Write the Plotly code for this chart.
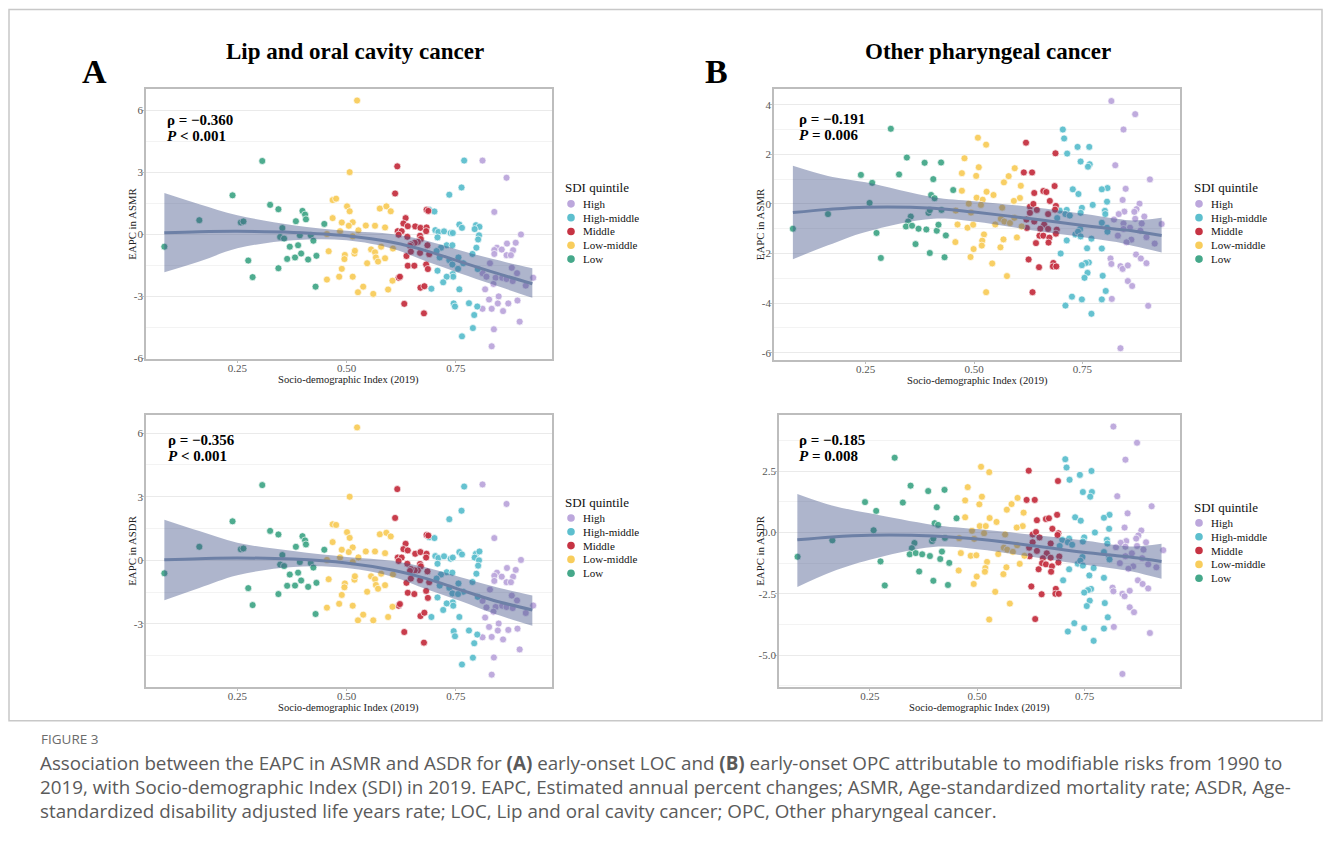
import plotly.graph_objects as go

PAGE_W, PAGE_H = 1331, 850
OFF = 8  # default body margin of the html page
W, H = PAGE_W - OFF, PAGE_H - OFF
SERIF = "Liberation Serif, Times New Roman, serif"
SANS = "Open Sans, Noto Sans, sans-serif"

groups = ["High", "High-middle", "Middle", "Low-middle", "Low"]
colors = {"High": "#BCA7DC", "High-middle": "#5DBFCE", "Middle": "#C63343",
          "Low-middle": "#F8CD5C", "Low": "#45A88A"}

# ---------------- Panel A: Lip and oral cavity cancer ----------------
A_sdi_low = [0.083, 0.163, 0.239, 0.258, 0.264, 0.275, 0.285, 0.307, 0.325, 0.344,
             0.353, 0.348, 0.357, 0.344, 0.370, 0.364, 0.384, 0.382, 0.389, 0.393,
             0.396, 0.399, 0.405, 0.407, 0.412, 0.418, 0.424, 0.431, 0.429, 0.449]
A_asmr_low = [-0.60, 0.68, 1.88, 0.57, 0.62, -1.27, -2.07, 3.54, 1.42, 1.21,
              0.30, -0.13, -0.21, -1.64, -0.60, -1.19, 0.63, -1.12, -0.53, -0.05,
              -0.93, 1.13, 0.95, 0.72, -1.22, -0.05, -0.31, -1.04, -2.53, 0.50]
A_asdr_low = [-0.61, 0.64, 1.84, 0.52, 0.56, -1.31, -2.11, 3.55, 1.39, 1.22,
              0.25, -0.20, -0.27, -1.59, -0.67, -1.20, 0.64, -1.19, -0.58, -0.08,
              -0.95, 1.14, 0.94, 0.75, -1.25, -0.13, -0.34, -1.06, -2.53, 0.50]

A_sdi_lowmid = [0.524, 0.507, 0.468, 0.476, 0.501, 0.507, 0.468, 0.489, 0.514, 0.505,
                0.527, 0.544, 0.565, 0.588, 0.576, 0.591, 0.601, 0.455, 0.485, 0.514,
                0.459, 0.496, 0.495, 0.518, 0.519, 0.556, 0.565, 0.579, 0.606, 0.567,
                0.588, 0.572, 0.547, 0.489, 0.483, 0.514, 0.455, 0.538, 0.526, 0.561,
                0.595, 0.605]
A_asmr_lowmid = [6.46, 3.00, 1.65, 1.72, 1.35, 1.11, 0.78, 0.57, 0.58, 0.41,
                 0.19, 0.42, 0.41, 0.33, 1.24, 1.35, 1.11, 0.01, 0.15, -0.10,
                 -0.82, -1.00, -1.20, -0.93, -0.80, -0.73, -0.87, -0.60, -0.69, -1.12,
                 -1.16, -1.32, -1.40, -1.67, -2.05, -2.05, -2.19, -2.53, -2.80, -2.88,
                 -2.67, -2.24]
A_asdr_lowmid = [6.27, 3.00, 1.70, 1.67, 1.33, 1.06, 0.86, 0.50, 0.61, 0.39,
                 0.14, 0.42, 0.42, 0.34, 1.23, 1.30, 1.13, 0.02, 0.14, -0.08,
                 -0.89, -1.09, -1.27, -0.91, -0.75, -0.75, -0.89, -0.63, -0.67, -1.16,
                 -1.17, -1.34, -1.48, -1.63, -2.05, -2.14, -2.23, -2.56, -2.83, -2.83,
                 -2.67, -2.19]

A_sdi_mid = [0.616, 0.611, 0.635, 0.630, 0.640, 0.657, 0.669, 0.683, 0.682, 0.683,
             0.687, 0.617, 0.626, 0.619, 0.639, 0.668, 0.670, 0.663, 0.656, 0.647,
             0.645, 0.685, 0.637, 0.647, 0.668, 0.689, 0.640, 0.655, 0.682, 0.686,
             0.619, 0.622, 0.669, 0.678, 0.632, 0.677]
A_asmr_mid = [3.28, 1.97, 0.78, 0.52, 0.39, 0.38, 0.31, 0.33, 0.15, 1.18,
              1.13, 0.15, 0.15, -0.02, -0.12, -0.07, -0.23, -0.37, -0.41, -0.49,
              -0.56, -0.53, -1.05, -0.84, -0.90, -0.96, -1.52, -1.52, -1.46, -1.68,
              -2.10, -2.05, -2.58, -2.51, -3.36, -3.82]
A_asdr_mid = [3.36, 2.00, 0.78, 0.53, 0.47, 0.31, 0.39, 0.31, 0.13, 1.20,
              1.17, 0.13, 0.13, -0.03, -0.16, -0.17, -0.28, -0.47, -0.47, -0.41,
              -0.50, -0.52, -1.06, -0.86, -0.94, -1.03, -1.53, -1.59, -1.44, -1.77,
              -2.14, -2.06, -2.63, -2.47, -3.38, -3.88]

A_sdi_highmid = [0.769, 0.763, 0.735, 0.689, 0.701, 0.758, 0.764, 0.796, 0.804, 0.793,
                 0.703, 0.710, 0.723, 0.738, 0.743, 0.803, 0.801, 0.708, 0.729, 0.742,
                 0.716, 0.706, 0.797, 0.713, 0.735, 0.756, 0.788, 0.742, 0.767, 0.755,
                 0.800, 0.708, 0.743, 0.744, 0.729, 0.721, 0.694, 0.758, 0.745, 0.748,
                 0.780, 0.799, 0.792, 0.789, 0.764]
A_asmr_highmid = [3.56, 2.26, 1.91, 1.18, 1.10, 0.47, 0.31, 0.44, 0.36, 0.25,
                  0.20, 0.11, 0.14, 0.06, 0.06, -0.05, -0.25, -0.15, -0.53, -0.53,
                  -0.65, -0.81, -0.65, -1.12, -1.25, -1.12, -0.95, -1.46, -1.40, -1.67,
                  -1.68, -1.76, -1.92, -2.05, -2.05, -2.32, -2.63, -2.66, -3.34, -3.49,
                  -3.33, -3.49, -3.90, -4.53, -4.93]
A_asdr_highmid = [3.48, 2.34, 1.94, 1.09, 1.05, 0.39, 0.28, 0.31, 0.42, 0.13,
                  0.20, 0.11, 0.19, 0.08, 0.13, 0.00, -0.25, -0.16, -0.56, -0.58,
                  -0.67, -0.86, -0.63, -1.19, -1.30, -1.09, -1.02, -1.56, -1.48, -1.59,
                  -1.72, -1.75, -1.98, -2.14, -2.03, -2.34, -2.67, -2.67, -3.34, -3.58,
                  -3.31, -3.50, -3.91, -4.59, -4.91]

A_sdi_high = [0.811, 0.866, 0.838, 0.899, 0.867, 0.887, 0.844, 0.855, 0.838, 0.881,
              0.838, 0.866, 0.876, 0.828, 0.878, 0.811, 0.890, 0.820, 0.841, 0.856,
              0.866, 0.880, 0.927, 0.910, 0.836, 0.817, 0.848, 0.826, 0.891, 0.846,
              0.870, 0.811, 0.832, 0.858, 0.896, 0.837, 0.832]
A_asmr_high = [3.56, 2.73, 1.08, -0.01, -0.45, -0.41, -0.65, -0.74, -0.76, -0.77,
               -0.95, -1.01, -1.01, -1.40, -1.62, -1.88, -1.88, -2.05, -2.10, -2.10,
               -2.16, -2.26, -2.10, -2.48, -2.40, -2.66, -3.00, -3.15, -3.20, -3.34,
               -3.34, -3.60, -3.60, -3.71, -4.22, -4.59, -5.41]
A_asdr_high = [3.58, 2.66, 1.05, 0.02, -0.36, -0.45, -0.58, -0.77, -0.73, -0.77,
               -0.97, -1.03, -1.03, -1.38, -1.66, -1.91, -1.89, -2.22, -2.20, -2.14,
               -2.20, -2.25, -2.13, -2.48, -2.42, -2.70, -2.98, -3.14, -3.22, -3.31,
               -3.28, -3.63, -3.61, -3.73, -4.20, -4.58, -5.39]

# loess fit
A_fit_x = [0.083, 0.163, 0.25, 0.378, 0.50, 0.607, 0.683, 0.759, 0.835, 0.925]
A_asmr_fit = [0.07, 0.12, 0.14, 0.09, -0.07, -0.40, -0.80, -1.32, -1.83, -2.39]
A_asmr_hi = [1.99, 1.45, 0.92, 0.44, 0.17, 0.00, -0.31, -0.77, -1.20, -1.64]
A_asmr_lo = [-1.84, -1.32, -0.68, -0.29, -0.29, -0.71, -1.32, -1.88, -2.43, -3.07]
A_asdr_fit = [0.03, 0.08, 0.11, 0.06, -0.125, -0.47, -0.86, -1.38, -1.88, -2.34]
A_asdr_hi = [1.92, 1.38, 0.83, 0.44, 0.16, -0.03, -0.34, -0.78, -1.22, -1.66]
A_asdr_lo = [-1.88, -1.30, -0.70, -0.31, -0.36, -0.78, -1.36, -1.91, -2.50, -3.09]

# ---------------- Panel B: Other pharyngeal cancer ----------------
B_sdi_low = [0.082, 0.163, 0.239, 0.265, 0.259, 0.308, 0.275, 0.285, 0.327, 0.345,
             0.354, 0.348, 0.343, 0.357, 0.365, 0.372, 0.386, 0.390, 0.395, 0.398,
             0.401, 0.406, 0.409, 0.398, 0.414, 0.418, 0.424, 0.425, 0.435, 0.432,
             0.452]
B_asmr_low = [-1.00, -0.41, 1.17, 0.85, 0.04, 3.03, -1.17, -2.18, 1.19, 1.87,
              -0.51, -0.71, -0.91, -0.88, -1.62, -1.00, 1.66, -1.03, -0.36, -0.25,
              0.36, 1.00, 0.23, -1.98, -1.08, -0.84, 1.67, -0.24, -1.27, -2.15,
              0.56]
B_asdr_low = [-0.99, -0.32, 1.24, 0.88, 0.09, 3.05, -1.18, -2.16, 1.22, 1.91,
              -0.43, -0.64, -0.89, -0.84, -1.59, -0.89, 1.69, -0.96, -0.35, -0.25,
              0.38, 1.03, 0.31, -1.97, -1.08, -0.78, 1.74, -0.22, -1.24, -2.14,
              0.58]

B_sdi_lowmid = [0.509, 0.528, 0.478, 0.472, 0.505, 0.511, 0.472, 0.529, 0.545, 0.506,
                0.520, 0.488, 0.516, 0.458, 0.493, 0.462, 0.485, 0.498, 0.549, 0.569,
                0.580, 0.594, 0.608, 0.606, 0.592, 0.565, 0.562, 0.570, 0.583, 0.593,
                0.610, 0.523, 0.519, 0.518, 0.457, 0.499, 0.492, 0.568, 0.599, 0.561,
                0.542, 0.576, 0.528]
B_asmr_lowmid = [2.67, 2.39, 1.84, 1.24, 1.13, 1.48, 0.53, 0.49, 0.36, 0.25,
                 0.17, 0.01, -0.04, -0.27, -0.35, -0.83, -0.96, -0.84, -0.83, 0.87,
                 1.12, 1.44, 0.73, 0.24, 0.12, -0.15, -0.60, -0.71, -0.77, -0.56,
                 -0.91, -1.23, -1.48, -1.68, -1.54, -1.82, -2.14, -1.43, -1.35, -1.75,
                 -2.40, -2.91, -3.56]
B_asdr_lowmid = [2.68, 2.46, 1.85, 1.31, 1.15, 1.46, 0.62, 0.59, 0.43, 0.26,
                 0.26, 0.07, -0.03, -0.23, -0.26, -0.84, -0.95, -0.93, -0.88, 0.93,
                 1.16, 1.41, 0.81, 0.26, 0.20, -0.08, -0.62, -0.70, -0.79, -0.52,
                 -0.95, -1.20, -1.45, -1.60, -1.55, -1.80, -2.10, -1.42, -1.28, -1.70,
                 -2.42, -2.90, -3.55]

B_sdi_mid = [0.620, 0.688, 0.615, 0.634, 0.686, 0.639, 0.660, 0.667, 0.675, 0.689,
             0.629, 0.637, 0.645, 0.629, 0.671, 0.687, 0.621, 0.639, 0.662, 0.622,
             0.653, 0.671, 0.691, 0.689, 0.651, 0.660, 0.674, 0.643, 0.672, 0.626,
             0.650, 0.683, 0.682, 0.690, 0.635]
B_asmr_mid = [2.47, 2.04, 1.27, 1.27, 0.72, 0.44, 0.52, 0.48, 0.12, -0.08,
              -0.11, 0.00, -0.24, -0.36, -0.41, -0.23, -0.63, -0.71, -0.83, -0.97,
              -1.00, -1.01, -1.04, -1.20, -1.28, -1.28, -1.36, -1.58, -1.56, -2.24,
              -2.55, -2.38, -2.52, -2.52, -3.56]
B_asdr_mid = [2.52, 2.10, 1.33, 1.33, 0.72, 0.50, 0.55, 0.58, 0.15, -0.03,
              -0.08, 0.02, -0.20, -0.40, -0.45, -0.10, -0.62, -0.75, -0.85, -0.97,
              -1.05, -1.03, -0.98, -1.22, -1.25, -1.30, -1.38, -1.50, -1.60, -2.20,
              -2.52, -2.30, -2.50, -2.50, -3.53]

B_sdi_highmid = [0.705, 0.708, 0.739, 0.766, 0.715, 0.746, 0.767, 0.763, 0.728, 0.741,
                 0.808, 0.795, 0.807, 0.774, 0.698, 0.714, 0.711, 0.721, 0.749, 0.746,
                 0.802, 0.803, 0.692, 0.795, 0.807, 0.808, 0.745, 0.734, 0.740, 0.746,
                 0.771, 0.714, 0.761, 0.795, 0.700, 0.765, 0.758, 0.749, 0.762, 0.797,
                 0.755, 0.804, 0.726, 0.749, 0.795, 0.711, 0.771]
B_asmr_highmid = [3.00, 2.64, 2.30, 2.30, 2.03, 1.71, 1.60, 1.50, 0.59, 0.40,
                  0.64, 0.59, 0.09, -0.04, -0.27, -0.24, -0.41, -0.47, -0.16, -0.36,
                  -0.28, -0.41, -0.57, -0.76, -0.96, -1.12, -1.01, -1.23, -1.12, -1.31,
                  -1.40, -1.47, -1.79, -1.80, -2.00, -2.36, -2.38, -2.47, -2.78, -2.90,
                  -2.98, -3.51, -3.74, -3.85, -3.85, -4.10, -4.43]
B_asdr_highmid = [2.99, 2.65, 2.35, 2.51, 2.15, 1.65, 1.65, 1.46, 0.62, 0.48,
                  0.72, 0.60, 0.15, 0.00, -0.30, -0.25, -0.40, -0.50, -0.20, -0.37,
                  -0.30, -0.45, -0.55, -0.80, -1.00, -1.10, -1.00, -1.27, -1.15, -1.35,
                  -1.45, -1.50, -1.75, -1.85, -1.95, -2.30, -2.35, -2.45, -2.78, -2.88,
                  -3.00, -3.46, -3.70, -3.90, -3.92, -4.04, -4.42]

B_sdi_high = [0.817, 0.872, 0.845, 0.826, 0.906, 0.850, 0.843, 0.882, 0.875, 0.870,
              0.847, 0.834, 0.893, 0.823, 0.872, 0.845, 0.887, 0.933, 0.860, 0.845,
              0.884, 0.832, 0.898, 0.863, 0.852, 0.917, 0.874, 0.885, 0.815, 0.817,
              0.898, 0.838, 0.843, 0.855, 0.855, 0.865, 0.818, 0.902, 0.838]
B_asmr_high = [4.15, 3.62, 3.00, 1.56, 0.99, 0.61, 0.16, 0.01, -0.21, -0.32,
               -0.31, -0.41, -0.51, -0.63, -0.60, -0.79, -0.79, -0.81, -0.96, -1.01,
               -1.08, -1.28, -1.34, -1.44, -1.55, -1.60, -2.04, -2.20, -2.20, -2.42,
               -2.39, -2.51, -2.62, -2.48, -3.11, -3.31, -3.83, -4.11, -5.82]
B_asdr_high = [4.32, 3.66, 2.97, 1.48, 1.07, 0.78, 0.20, 0.08, -0.12, -0.25,
               -0.35, -0.42, -0.40, -0.60, -0.55, -0.58, -0.70, -0.72, -0.85, -0.97,
               -1.05, -1.25, -1.30, -1.38, -1.48, -1.42, -1.95, -2.10, -2.25, -2.40,
               -2.28, -2.50, -2.60, -2.38, -3.05, -3.25, -3.85, -4.10, -5.77]

B_asmr_fit_x = [0.082, 0.163, 0.25, 0.406, 0.50, 0.637, 0.752, 0.829, 0.868, 0.933]
B_asmr_fit = [-0.35, -0.22, -0.13, -0.17, -0.33, -0.61, -0.87, -1.02, -1.09, -1.27]
B_asmr_hi = [1.54, 1.13, 0.87, 0.27, 0.11, -0.13, -0.40, -0.60, -0.67, -0.56]
B_asmr_lo = [-2.23, -1.67, -1.13, -0.60, -0.71, -1.07, -1.34, -1.54, -1.70, -1.96]
B_asdr_fit_x = [0.0815, 0.162, 0.25, 0.3975, 0.50, 0.630, 0.747, 0.825, 0.863, 0.929]
B_asdr_fit = [-0.30, -0.18, -0.11, -0.14, -0.27, -0.54, -0.81, -0.95, -1.02, -1.18]
B_asdr_hi = [1.57, 1.10, 0.78, 0.31, 0.14, -0.09, -0.32, -0.52, -0.57, -0.46]
B_asdr_lo = [-2.22, -1.60, -1.11, -0.59, -0.68, -1.00, -1.31, -1.49, -1.60, -1.89]

stats = {"A1": ("ρ = −0.360", "&lt; 0.001"), "A2": ("ρ = −0.356", "&lt; 0.001"),
         "B1": ("ρ = −0.191", "= 0.006"), "B2": ("ρ = −0.185", "= 0.008")}

x_ticks = [0.25, 0.50, 0.75]
x_ticktext = ["0.25", "0.50", "0.75"]


def px(v):
    return (v - OFF) / W


def py(v):
    return 1 - (v - OFF) / H


panels = [
    dict(key="A1", ax="", box=(146, 552, 89, 361), xr=[0.041, 0.970], yr=[-6.02, 7.04],
         yt=[-6, -3, 0, 3, 6], ytt=["-6", "-3", "0", "3", "6"], minor=1.5,
         xs=[A_sdi_high, A_sdi_highmid, A_sdi_mid, A_sdi_lowmid, A_sdi_low],
         ys=[A_asmr_high, A_asmr_highmid, A_asmr_mid, A_asmr_lowmid, A_asmr_low],
         fx=A_fit_x, fy=A_asmr_fit, fhi=A_asmr_hi, flo=A_asmr_lo,
         ytitle="EAPC in ASMR", ytx=132, stat=(165, 121), leg=(563, 189, 571, 581)),
    dict(key="A2", ax="2", box=(146, 552, 417, 691), xr=[0.041, 0.970], yr=[-5.97, 6.875],
         yt=[-3, 0, 3, 6], ytt=["-3", "0", "3", "6"], minor=1.5,
         xs=[A_sdi_high, A_sdi_highmid, A_sdi_mid, A_sdi_lowmid, A_sdi_low],
         ys=[A_asdr_high, A_asdr_highmid, A_asdr_mid, A_asdr_lowmid, A_asdr_low],
         fx=A_fit_x, fy=A_asdr_fit, fhi=A_asdr_hi, flo=A_asdr_lo,
         ytitle="EAPC in ASDR", ytx=132, stat=(166, 443), leg=(563, 505, 571, 581)),
    dict(key="B1", ax="3", box=(774, 1180, 89, 362), xr=[0.0384, 0.9754], yr=[-6.29, 4.654],
         yt=[-6, -4, -2, 0, 2, 4], ytt=["-6", "-4", "-2", "0", "2", "4"], minor=1.0,
         xs=[B_sdi_high, B_sdi_highmid, B_sdi_mid, B_sdi_lowmid, B_sdi_low],
         ys=[B_asmr_high, B_asmr_highmid, B_asmr_mid, B_asmr_lowmid, B_asmr_low],
         fx=B_asmr_fit_x, fy=B_asmr_fit, fhi=B_asmr_hi, flo=B_asmr_lo,
         ytitle="EAPC in ASMR", ytx=760, stat=(797, 120), leg=(1192, 189, 1199, 1209)),
    dict(key="B2", ax="4", box=(779, 1180, 417, 691), xr=[0.0388, 0.972], yr=[-6.30, 4.81],
         yt=[-5, -2.5, 0, 2.5], ytt=["-5.0", "-2.5", "0.0", "2.5"], minor=1.25,
         xs=[B_sdi_high, B_sdi_highmid, B_sdi_mid, B_sdi_lowmid, B_sdi_low],
         ys=[B_asdr_high, B_asdr_highmid, B_asdr_mid, B_asdr_lowmid, B_asdr_low],
         fx=B_asdr_fit_x, fy=B_asdr_fit, fhi=B_asdr_hi, flo=B_asdr_lo,
         ytitle="EAPC in ASDR", ytx=760, stat=(797, 443), leg=(1192, 510, 1199, 1209)),
]

fig = go.Figure()
annotations = []
shapes = []
layout_axes = {}

for p in panels:
    ax = p["ax"]
    xa, ya = "x" + ax, "y" + ax
    x0, x1, y0, y1 = p["box"]
    # points
    for g, xs, ys in zip(groups, p["xs"], p["ys"]):
        fig.add_trace(go.Scatter(
            x=xs, y=ys, mode="markers", name=g, xaxis=xa, yaxis=ya, showlegend=False,
            marker=dict(size=7, color=colors[g], opacity=0.95,
                        line=dict(color="white", width=0.7))))
    # confidence band + fitted line
    fig.add_trace(go.Scatter(x=p["fx"], y=p["flo"], mode="lines", xaxis=xa, yaxis=ya,
                             line=dict(width=0, shape="spline", color="rgba(0,0,0,0)"),
                             showlegend=False, hoverinfo="skip"))
    fig.add_trace(go.Scatter(x=p["fx"], y=p["fhi"], mode="lines", xaxis=xa, yaxis=ya,
                             fill="tonexty", fillcolor="rgba(62,78,133,0.42)",
                             line=dict(width=0, shape="spline", color="rgba(0,0,0,0)"),
                             showlegend=False, hoverinfo="skip"))
    fig.add_trace(go.Scatter(x=p["fx"], y=p["fy"], mode="lines", xaxis=xa, yaxis=ya,
                             line=dict(width=3, shape="spline", color="#6D80A6"),
                             showlegend=False, hoverinfo="skip"))

    common = dict(showline=True, mirror=True, linecolor="#BDBDBD", linewidth=1.6,
                  ticks="outside", ticklen=2, tickwidth=1, tickcolor="#BDBDBD",
                  tickfont=dict(family=SERIF, size=11, color="#555555"),
                  zeroline=False, fixedrange=True)
    layout_axes["xaxis" + ax] = dict(
        domain=[px(x0), px(x1)], range=p["xr"], anchor=ya, showgrid=False,
        tickvals=x_ticks, ticktext=x_ticktext, ticklabelstandoff=-4, **common)
    layout_axes["yaxis" + ax] = dict(
        domain=[py(y1), py(y0)], range=p["yr"], anchor=xa, showgrid=True,
        gridcolor="#EAEAEA", gridwidth=1, tickvals=p["yt"], ticktext=p["ytt"],
        ticklabelstandoff=-3,
        minor=dict(dtick=p["minor"], tick0=0, showgrid=True, gridcolor="#F3F3F3",
                   gridwidth=1, ticks=""),
        **common)

    # axis titles
    annotations.append(dict(text="Socio-demographic Index (2019)", xref="paper", yref="paper",
                            x=px((x0 + x1) / 2), y=py(y1 + 21), showarrow=False,
                            xanchor="center", yanchor="middle",
                            font=dict(family=SERIF, size=10.6, color="#222222")))
    annotations.append(dict(text=p["ytitle"], xref="paper", yref="paper",
                            x=px(p["ytx"]), y=py((y0 + y1) / 2), showarrow=False,
                            textangle=-90, xanchor="center", yanchor="middle",
                            font=dict(family=SERIF, size=10.8, color="#222222")))
    # statistics
    rho, pval = stats[p["key"]]
    sx, sy = p["stat"]
    annotations.append(dict(text="<b>" + rho + "</b>", xref="paper", yref="paper",
                            x=px(sx), y=py(sy), showarrow=False, xanchor="left",
                            yanchor="middle", font=dict(family=SERIF, size=15, color="black")))
    annotations.append(dict(text="<b><i>P</i> " + pval + "</b>", xref="paper", yref="paper",
                            x=px(sx), y=py(sy + 15.5), showarrow=False, xanchor="left",
                            yanchor="middle", font=dict(family=SERIF, size=15, color="black")))
    # legend (drawn manually to match ggplot spacing)
    tx, ty, mx, lx = p["leg"]
    annotations.append(dict(text="SDI quintile", xref="paper", yref="paper",
                            x=px(tx), y=py(ty), showarrow=False, xanchor="left",
                            yanchor="middle", font=dict(family=SERIF, size=13, color="#111111")))
    for i, g in enumerate(groups):
        iy = ty + 16 + i * 13.9
        shapes.append(dict(type="circle", xref="paper", yref="paper",
                           xsizemode="pixel", ysizemode="pixel",
                           xanchor=px(mx), yanchor=py(iy),
                           x0=-3.8, x1=3.8, y0=-3.8, y1=3.8,
                           fillcolor=colors[g], line=dict(width=0)))
        annotations.append(dict(text=g, xref="paper", yref="paper", x=px(lx), y=py(iy),
                                showarrow=False, xanchor="left", yanchor="middle",
                                font=dict(family=SERIF, size=11, color="#111111")))

# panel titles and letters
for txt, x, y in [("Lip and oral cavity cancer", 354.5, 52), ("Other pharyngeal cancer", 988, 52)]:
    annotations.append(dict(text="<b>" + txt + "</b>", xref="paper", yref="paper",
                            x=px(x), y=py(y), showarrow=False, xanchor="center",
                            yanchor="middle", font=dict(family=SERIF, size=23, color="black")))
for txt, x, y in [("A", 95, 72), ("B", 716, 72)]:
    annotations.append(dict(text="<b>" + txt + "</b>", xref="paper", yref="paper",
                            x=px(x), y=py(y), showarrow=False, xanchor="center",
                            yanchor="middle", font=dict(family=SERIF, size=34, color="black")))

# caption
annotations.append(dict(text="FIGURE 3", xref="paper", yref="paper", x=px(39), y=py(743),
                        showarrow=False, xanchor="left", yanchor="middle",
                        font=dict(family=SANS, size=13.5, color="#6b6b6b")))
caption_lines = [
    "Association between the EAPC in ASMR and ASDR for <b>(A)</b> early-onset LOC and <b>(B)</b> early-onset OPC attributable to modifiable risks from 1990 to",
    "2019, with Socio-demographic Index (SDI) in 2019. EAPC, Estimated annual percent changes; ASMR, Age-standardized mortality rate; ASDR, Age-",
    "standardized disability adjusted life years rate; LOC, Lip and oral cavity cancer; OPC, Other pharyngeal cancer.",
]
for i, line in enumerate(caption_lines):
    annotations.append(dict(text=line, xref="paper", yref="paper", x=px(38), y=py(768 + i * 23.7),
                            showarrow=False, xanchor="left", yanchor="middle",
                            font=dict(family=SANS, size=18.8, color="#5a5a5a")))

# figure frame
shapes.append(dict(type="rect", xref="paper", yref="paper", x0=px(9), x1=px(1322),
                   y0=py(725), y1=py(9.5), line=dict(color="#C8C8C8", width=1.5),
                   fillcolor="rgba(0,0,0,0)", layer="below"))

fig.update_layout(width=W, height=H, margin=dict(l=0, r=0, t=0, b=0),
                  paper_bgcolor="white", plot_bgcolor="white", showlegend=False,
                  annotations=annotations, shapes=shapes, **layout_axes)

fig.write_html("out.html")
